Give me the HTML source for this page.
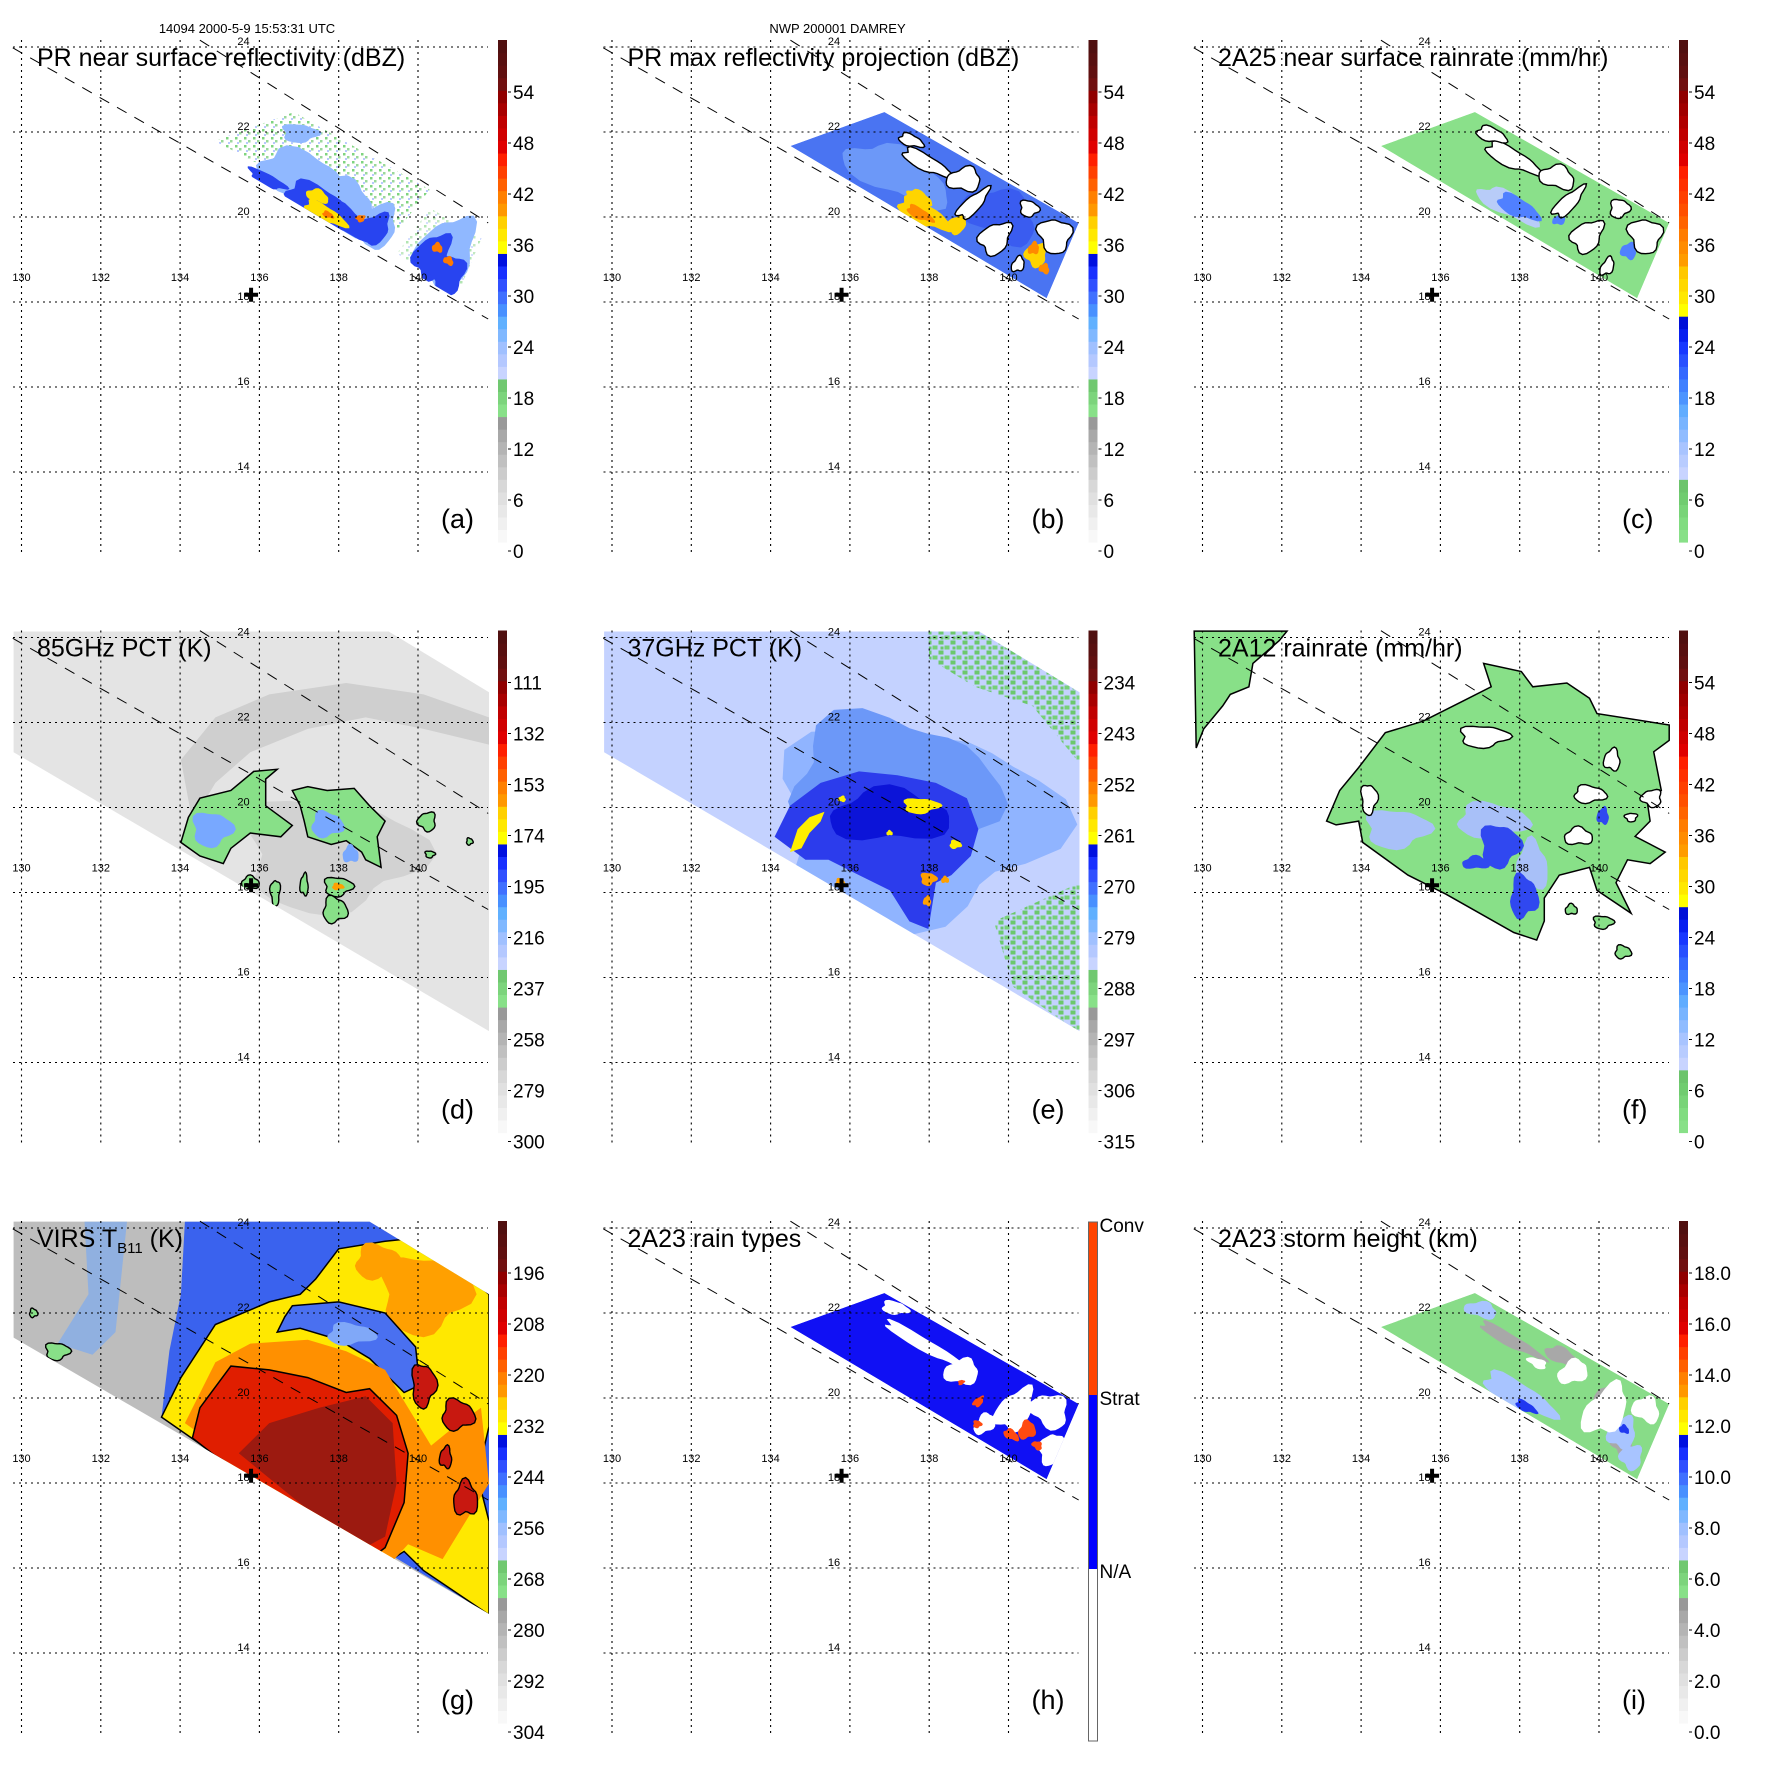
<!DOCTYPE html>
<html><head><meta charset="utf-8"><title>TRMM DAMREY 2000-5-9</title>
<style>
html,body{margin:0;padding:0;background:#fff;}
svg{display:block;font-family:"Liberation Sans",Arial,sans-serif;}
</style></head>
<body>
<svg id="fig" width="1771" height="1771" viewBox="0 0 1771 1771" xmlns="http://www.w3.org/2000/svg">
<rect x="0" y="0" width="1771" height="1771" fill="#fff"/>
<defs>
<pattern id="spkG" width="9" height="8" patternUnits="userSpaceOnUse">
<rect x="1" y="1" width="2.5" height="2.5" fill="#7fd47f"/><rect x="5" y="4" width="2.5" height="2.5" fill="#9ad89a"/><rect x="3" y="6" width="2" height="2" fill="#b8c8ff"/>
</pattern>
<pattern id="spkE" width="12" height="10" patternUnits="userSpaceOnUse">
<rect x="0" y="0" width="5" height="4" fill="#6cc86c"/><rect x="6" y="5" width="5" height="4" fill="#78d078"/><rect x="2" y="6" width="3" height="3" fill="#6cc86c"/>
</pattern>
</defs>
</svg>
<script>
const NS='http://www.w3.org/2000/svg';
const svg=document.getElementById('fig');

/* ---- axis data ---- */
const lonTicks=[130,132,134,136,138,140];
const latTicks=[24,22,20,18,16,14];
const colOff=[0,590.5,1181];
const rowOff=[0,590.5,1181];
/* colorbar tick labels */
const labA=['0','6','12','18','24','30','36','42','48','54'];
const labC=['0','6','12','18','24','30','36','42','48','54'];
const labD=['300','279','258','237','216','195','174','153','132','111'];
const labE=['315','306','297','288','279','270','261','252','243','234'];
const labG=['304','292','280','268','256','244','232','220','208','196'];
const labI=['0.0','2.0','4.0','6.0','8.0','10.0','12.0','14.0','16.0','18.0'];
const labH=['N/A','Strat','Conv'];
/* colour ramps (bottom to top) */
const rampA=['#f8f8f8','#f0f0f0','#e8e8e8','#e0e0e0','#d8d8d8','#cccccc','#c0c0c0','#b4b4b4','#a8a8a8','#999999',
'#88e088','#7cd47c','#70c870',
'#c8d4ff','#b4c8ff','#a0c0ff','#80b8ff','#60b0ff','#4890ff','#4070ff','#3050ff','#1830ff','#0010e0',
'#ffff00','#ffe800','#ffd000','#ff9800','#ff8000','#ff6000',
'#ff4000','#ff2000','#e00000','#d00000','#c00000','#a80000','#900000',
'#701010','#601010','#581010','#501010'];
const rampF=['#88e088','#80dc80','#78d478','#70cc70','#6cc46c',
'#c8d4ff','#b8ccff','#a8c4ff','#90bcff','#78b4ff','#60acff','#4c94ff','#4080ff','#3468ff','#2850ff','#1838ff','#0820f0','#0010d8',
'#ffff00','#ffe800','#ffd800','#ffc800',
'#ff9c00','#ff8c00','#ff7c00','#ff6400','#ff5000',
'#ff4000','#ff3000','#ff2000','#e00000','#d00000','#c00000','#b00000','#a00000','#900000',
'#701010','#601010','#581010','#501010'];

/* ---- geographic axis functions (panel-local px) ---- */
function X(lon){return 21.5+(lon-130)*39.65;}
function Y(lat){return 47+(24-lat)*42.5;}

/* PR swath corners (lon,lat) */
const prBL=[134.50,21.67],prTL=[136.87,22.47],prTR=[141.77,19.86],prBR=[140.96,18.09];
function UV(u,v){
  const bl=prBL[0]+(prBR[0]-prBL[0])*u, bt=prBL[1]+(prBR[1]-prBL[1])*u;
  const tl=prTL[0]+(prTR[0]-prTL[0])*u, tt=prTL[1]+(prTR[1]-prTL[1])*u;
  const bx=X(bl),by=Y(bt),tx=X(tl),ty=Y(tt);
  return [bx+(tx-bx)*v,by+(ty-by)*v];
}
/* TMI / VIRS swaths (lon,lat) */
const tmiSwath=[[129.80,24.14],[139.26,24.14],[141.79,22.71],[141.79,14.74],[129.80,21.30]];
const virsSwath=[[129.8,24.15],[138.78,24.15],[141.79,22.44],[141.79,14.92],[129.8,21.42]];
const dashTop=[[134.5,24.16],[141.77,19.86]];
const dashBot=[[129.78,23.98],[141.77,17.6]];
const stormCenter=[135.79,18.17];

function mk(tag,attrs,parent){const e=document.createElementNS(NS,tag);for(const k in attrs)e.setAttribute(k,attrs[k]);parent.appendChild(e);return e;}
function llPts(arr){return arr.map(p=>X(p[0]).toFixed(1)+','+Y(p[1]).toFixed(1)).join(' ');}
function wob(t,s){return 1+0.16*Math.sin(3*t+s)+0.09*Math.sin(5*t+2*s);}
function blobUV(g,b,fill,stroke){
  const [uc,vc,ru,rv,s]=b;const pts=[];
  for(let i=0;i<28;i++){const t=i/28*2*Math.PI;const r=wob(t,s||0);const p=UV(uc+ru*r*Math.cos(t),vc+rv*r*Math.sin(t));pts.push(p[0].toFixed(1)+','+p[1].toFixed(1));}
  const e=mk('polygon',{points:pts.join(' '),fill:fill,stroke:stroke||'none','stroke-width':1.4},g);
  
  
  return e;
}
function blobLL(g,b,fill,stroke){
  const [lc,tc,rl,rt,s]=b;const pts=[];
  for(let i=0;i<28;i++){const t=i/28*2*Math.PI;const r=wob(t,s||0);pts.push(X(lc+rl*r*Math.cos(t)).toFixed(1)+','+Y(tc+rt*r*Math.sin(t)).toFixed(1));}
  const e=mk('polygon',{points:pts.join(' '),fill:fill,stroke:stroke||'none','stroke-width':1.4},g);
  
  
  return e;
}
function polyLL(g,arr,fill,stroke,name){
  const e=mk('polygon',{points:llPts(arr),fill:fill,stroke:stroke||'none','stroke-width':1.5},g);
  
  
  return e;
}
function prSwathPts(){return [UV(0,0),UV(0,1),UV(1,1),UV(1,0)].map(p=>p[0].toFixed(1)+','+p[1].toFixed(1)).join(' ');}
let clipN=0;
function clipGroup(g,pointsStr){
  const id='clp'+(clipN++);
  const cp=mk('clipPath',{id:id},svg.querySelector('defs'));
  mk('polygon',{points:pointsStr},cp);
  const cg=mk('g',{'clip-path':'url(#'+id+')'},g);
  
  
  return cg;
}

/* ---------- panel imagery data ---------- */
const aLight=[[0.3,0.35,0.16,0.3,1],[0.47,0.3,0.12,0.3,2],[0.62,0.25,0.08,0.3,3],[0.9,0.45,0.1,0.45,4],[0.12,0.8,0.06,0.15,5]];
const aBlue=[[0.42,0.15,0.12,0.2,1],[0.52,0.12,0.12,0.17,2],[0.63,0.22,0.05,0.22,3],[0.86,0.3,0.06,0.3,4],[0.94,0.2,0.06,0.25,5],[0.24,0.07,0.07,0.08,6]];
const aYel=[[0.47,0.07,0.08,0.1,1],[0.4,0.22,0.04,0.08,2]];
const aOra=[[0.48,0.08,0.02,0.04,1],[0.86,0.42,0.02,0.06,2],[0.92,0.35,0.02,0.05,3],[0.57,0.25,0.015,0.05,4]];
const bWhite=[[0.33,0.7,0.11,0.1,1],[0.49,0.76,0.06,0.17,2],[0.59,0.55,0.03,0.25,3],[0.74,0.32,0.05,0.22,4],[0.93,0.72,0.07,0.2,5],[0.78,0.85,0.04,0.1,6],[0.2,0.85,0.05,0.08,7],[0.86,0.18,0.02,0.1,8]];
const bYel=[[0.49,0.12,0.1,0.14,1],[0.43,0.28,0.05,0.07,2],[0.6,0.22,0.03,0.15,3],[0.9,0.4,0.04,0.15,4]];
const bOra=[[0.48,0.1,0.05,0.07,1],[0.88,0.45,0.02,0.08,2],[0.95,0.3,0.02,0.06,3]];
const cWhite=[[0.3,0.72,0.12,0.12,1],[0.49,0.8,0.07,0.15,2],[0.6,0.6,0.03,0.25,3],[0.74,0.35,0.05,0.22,4],[0.93,0.72,0.07,0.2,5],[0.78,0.85,0.04,0.12,6],[0.15,0.85,0.06,0.1,7],[0.86,0.15,0.02,0.12,8]];
const cBlue=[[0.48,0.22,0.08,0.12,1],[0.62,0.35,0.02,0.08,2],[0.9,0.45,0.03,0.1,3]];
const dBand=[[134.02,21.12],[134.89,22.12],[136.25,22.66],[138.19,22.93],[140.14,22.66],[141.79,22.12],[141.79,21.48],[140.14,21.85],[138.68,22.12],[137.22,21.85],[135.77,21.30],[134.89,20.58],[134.31,19.67]];
const dGreen1=[[134.02,19.18],[134.21,19.77],[134.50,20.22],[135.28,20.40],[135.86,20.85],[136.45,20.90],[136.16,20.67],[136.16,20.04],[136.83,19.58],[136.54,19.31],[135.77,19.40],[135.28,19.04],[135.09,18.68],[134.50,18.86]];
const dGreen2=[[136.83,20.40],[137.22,20.49],[137.71,20.40],[138.39,20.45],[138.78,20.04],[139.17,19.68],[138.97,19.31],[139.07,18.59],[138.68,18.77],[138.58,18.95],[138.19,19.22],[137.81,19.13],[137.22,19.31],[137.13,19.68],[137.03,20.04]];
const dSmall=[[137.98,18.14,0.35,0.22,1],[137.9,17.59,0.3,0.3,2],[135.77,18.23,0.22,0.15,3],[137.13,18.18,0.1,0.25,4],[140.23,19.67,0.22,0.22,5],[136.4,18.0,0.12,0.3,6],[140.3,18.9,0.12,0.08,7],[141.3,19.2,0.08,0.08,8]];
const dBlue=[[134.8,19.49,0.5,0.4,1],[137.7,19.6,0.4,0.3,2],[138.3,18.9,0.2,0.2,3]];
const eCore=[[134.10,19.31],[134.49,20.04],[135.26,20.58],[136.23,20.85],[137.20,20.76],[138.17,20.58],[138.95,20.22],[139.24,19.49],[139.05,18.86],[138.56,18.41],[138.17,18.23],[137.98,17.14],[137.50,17.32],[137.01,18.05],[136.23,18.41],[135.46,18.77],[134.88,18.77]];
const eYelArc=[[134.49,18.95],[134.68,19.49],[134.98,19.77],[135.36,19.90],[135.26,19.67],[134.98,19.40],[134.78,19.04]];
const eYel=[[137.79,20.04,0.45,0.18,1],[138.66,19.13,0.15,0.1,2],[137.0,19.4,0.08,0.06,3],[135.8,20.2,0.1,0.07,4]];
const eOra=[[137.98,18.32,0.2,0.15,1],[135.75,18.23,0.12,0.1,2],[138.4,18.3,0.1,0.08,3],[137.95,17.8,0.1,0.12,4]];
const eGreenTop=[[137.98,24.2],[139.24,24.2],[141.8,22.7],[141.8,21.03],[140.60,22.39],[139.15,22.84],[138.0,23.5]];
const eGreenBot=[[139.63,17.32],[141.8,18.23],[141.8,14.7],[140.12,15.78]];
const fMain=[[133.13,19.68],[133.46,20.40],[133.94,20.94],[134.61,21.76],[135.56,22.03],[136.52,22.48],[137.28,22.84],[137.09,23.39],[138.04,23.20],[138.33,22.84],[139.19,22.93],[139.76,22.57],[139.95,22.21],[141.77,21.94],[141.77,21.58],[141.38,21.31],[141.57,20.40],[141.19,20.31],[141.29,19.68],[140.91,19.32],[141.67,18.95],[141.29,18.68],[140.72,18.77],[140.43,18.23],[140.81,17.51],[139.95,18.05],[139.76,18.59],[139.0,18.41],[138.62,17.87],[138.62,17.33],[138.43,16.88],[137.85,17.06],[136.14,17.96],[135.18,18.41],[134.04,19.18],[133.94,19.68],[133.37,19.59]];
const fTopLeft=[[129.79,24.15],[132.13,24.15],[131.94,23.93],[131.27,23.39],[131.17,22.84],[130.70,22.66],[130.51,22.39],[130.03,21.85],[129.84,21.4]];
const fHoles=[[137.09,21.67,0.6,0.25,1],[139.76,20.31,0.4,0.2,2],[139.48,19.32,0.35,0.2,3],[140.33,21.12,0.2,0.25,4],[141.33,20.22,0.25,0.2,5],[140.81,19.77,0.15,0.1,6],[134.2,20.2,0.2,0.35,7]];
const fBlue=[[137.5,19.1,0.5,0.5,1],[138.1,17.9,0.35,0.5,2],[136.9,18.7,0.35,0.15,3],[140.1,19.8,0.15,0.2,4]];
const fLight=[[134.9,19.5,0.8,0.45,1],[137.3,19.7,0.9,0.4,2],[138.3,18.6,0.4,0.6,3]];
const fSmall=[[140.1,17.3,0.25,0.15,1],[140.6,16.6,0.2,0.15,2],[139.3,17.6,0.15,0.12,3]];
const gBlue=[[134.12,24.15],[138.78,24.15],[141.79,22.44],[141.79,14.92],[133.53,19.55],[133.73,21.11],[134.02,22.44]];
const gLeft=[[131.59,24.15],[132.66,24.15],[132.37,21.55],[131.79,21.02],[130.91,21.28],[131.69,22.44]];
const gYel=[[133.53,19.55],[134.02,20.48],[134.89,21.73],[136.25,22.26],[137.03,22.44],[137.42,22.80],[138.0,23.51],[139.17,23.69],[140.14,23.78],[141.79,22.44],[141.79,19.33],[141.5,18.17],[141.79,17.1],[141.79,14.9],[140.14,15.94],[139.65,16.39],[139.0,16.0]];
const gBlueArc=[[136.83,22.17],[138.0,22.26],[139.17,22.0],[139.94,21.2],[140.04,20.3],[139.65,20.13],[138.78,20.93],[138.0,21.37],[137.03,21.64],[136.45,21.55],[136.64,21.91]];
const gOra=[[134.12,19.41],[134.89,20.84],[135.77,21.28],[137.22,21.37],[138.19,21.1],[139.17,20.66],[139.75,19.77],[140.33,18.88],[140.91,19.32],[141.59,19.77],[141.79,17.99],[140.62,16.21],[139.75,16.56],[139.2,16.0]];
const gRed=[[134.31,19.06],[134.5,19.77],[135.28,20.75],[136.25,20.66],[137.22,20.48],[138.19,20.13],[138.78,20.22],[139.46,19.59],[139.75,18.7],[139.65,17.54],[139.17,16.48],[138.5,16.0]];
const gMaroon=[[135.48,18.7],[136.25,19.41],[137.51,19.77],[138.68,20.04],[139.36,19.41],[139.46,17.99],[139.17,16.74],[138.5,16.4]];
const gOraTR=[[140.14,22.44,1.1,0.9,1],[139.0,23.2,0.6,0.4,2]];
const gRedBlobs=[[140.14,20.3,0.3,0.5,1],[141.0,19.6,0.4,0.35,2],[141.2,17.63,0.3,0.4,3],[140.7,18.6,0.15,0.25,4]];
const gYelStreak=[[137.5,18.7,0.35,0.3,1]];
const gGreen=[[130.9,21.1,0.3,0.2,1],[130.3,22.0,0.1,0.1,2]];
const hWhite=[[0.33,0.68,0.2,0.08,1],[0.52,0.62,0.06,0.18,2],[0.78,0.55,0.06,0.3,3],[0.9,0.75,0.08,0.2,4],[0.97,0.35,0.04,0.2,5],[0.1,0.9,0.05,0.1,6],[0.72,0.2,0.03,0.15,7]];
const hRed=[[0.86,0.4,0.03,0.12,1],[0.82,0.25,0.03,0.06,2],[0.65,0.4,0.015,0.08,3],[0.92,0.3,0.02,0.05,4],[0.55,0.5,0.01,0.04,5],[0.7,0.15,0.015,0.05,6]];
const iGray=[[0.3,0.7,0.15,0.08,1],[0.5,0.85,0.08,0.1,2],[0.75,0.7,0.04,0.15,3],[0.9,0.3,0.04,0.15,4]];
const iWhite=[[0.58,0.75,0.05,0.18,1],[0.78,0.55,0.07,0.35,2],[0.92,0.8,0.06,0.15,3],[0.45,0.62,0.04,0.06,4]];
const iLight=[[0.5,0.15,0.14,0.16,1],[0.1,0.85,0.06,0.12,2],[0.88,0.4,0.05,0.2,3],[0.95,0.2,0.04,0.15,4]];
const iBlue=[[0.55,0.07,0.04,0.06,1],[0.88,0.45,0.02,0.05,2]];

/* ---------- panel frame ---------- */
function panel(ci,ri,letter,title,ramp,labels,draw,header){
  const g=mk('g',{transform:'translate('+colOff[ci]+','+rowOff[ri]+')'},svg);
  
  
  draw(g);
  lonTicks.forEach(lon=>{
    const l=mk('line',{x1:X(lon),x2:X(lon),y1:40,y2:552,stroke:'#000','stroke-width':1.1,'stroke-dasharray':'2,4'},g);
    
    
    const t=mk('text',{x:X(lon),y:281,'font-size':11,'text-anchor':'middle'},g);
    t.textContent=lon;
    
    
  });
  latTicks.forEach(lat=>{
    const l=mk('line',{x1:13,x2:488,y1:Y(lat),y2:Y(lat),stroke:'#000','stroke-width':1.1,'stroke-dasharray':'2,4'},g);
    
    
    const t=mk('text',{x:X(135.6),y:Y(lat)-2,'font-size':11,'text-anchor':'middle'},g);
    t.textContent=lat;
    
    
  });
  [dashTop,dashBot].forEach((d,i)=>{
    const l=mk('line',{x1:X(d[0][0]),y1:Y(d[0][1]),x2:X(d[1][0]),y2:Y(d[1][1]),stroke:'#000','stroke-width':1,'stroke-dasharray':'11,9'},g);
    
    
  });
  const cx=X(stormCenter[0]),cy=Y(stormCenter[1]);
  const cr=mk('path',{d:`M${cx-7} ${cy}H${cx+7}M${cx} ${cy-7}V${cy+7}`,stroke:'#000','stroke-width':4},g);
  
  
  const tt=mk('text',{x:37,y:66,'font-size':25},g);
  tt.textContent=title;
  
  
  if(title.indexOf('VIRS')===0){
    tt.textContent='VIRS T';
    const sub=mk('tspan',{'font-size':15,dy:6},tt);sub.textContent='B11';
    const rest=mk('tspan',{dy:-6},tt);rest.textContent=' (K)';
  }
  const lt=mk('text',{x:441,y:528,'font-size':27},g);
  lt.textContent='('+letter+')';
  
  
  if(header){
    const h=mk('text',{x:247,y:33,'font-size':13,'text-anchor':'middle'},g);
    h.textContent=header;
    
    
  }
  const cb=mk('g',{},g);
  
  
  if(ramp){
    const top=40,bot=542,n=ramp.length,h=(bot-top)/n;
    ramp.forEach((c,i)=>{
      const r=mk('rect',{x:498,y:(bot-(i+1)*h).toFixed(2),width:9,height:(h+0.6).toFixed(2),fill:c},cb);
      
      
    });
    labels.forEach((s,i)=>{
      const y=551-i*51;
      const tk=mk('line',{x1:508,x2:511,y1:y,y2:y,stroke:'#000','stroke-width':1},cb);
      
      
      const t=mk('text',{x:513,y:y+7,'font-size':19},cb);
      t.textContent=s;
      
      
    });
  } else {
    const segs=[[388,560,'#ffffff'],[214,388,'#0000ff'],[41,214,'#ff4400']];
    segs.forEach(s=>{
      const r=mk('rect',{x:498,y:s[0],width:9,height:s[1]-s[0],fill:s[2]},cb);
      
      
    });
    const o=mk('rect',{x:498,y:41,width:9,height:519,fill:'none',stroke:'#666','stroke-width':1},cb);
    
    
    const ys=[389,216,43];
    labels.forEach((s,i)=>{
      const t=mk('text',{x:509,y:ys[i]+8,'font-size':19},cb);
      t.textContent=s;
      
      
    });
  }
}

/* ---------- draw panels ---------- */
panel(0,0,'a','PR near surface reflectivity (dBZ)',rampA,labA,g=>{
  const c=clipGroup(g,prSwathPts());
  const sp=mk('polygon',{points:[UV(0,0.15),UV(0,1),UV(0.7,1),UV(0.7,0.3)].map(p=>p.join(',')).join(' '),fill:'url(#spkG)'},c);
  
  
  const sp2=mk('polygon',{points:[UV(0.75,0.1),UV(0.75,0.8),UV(1,0.8),UV(1,0.1)].map(p=>p.join(',')).join(' '),fill:'url(#spkG)',opacity:0.6},c);
  
  
  aLight.forEach(b=>blobUV(c,b,'#90b8ff'));
  aBlue.forEach(b=>blobUV(c,b,'#2844f0'));
  aYel.forEach(b=>blobUV(c,b,'#ffe000'));
  aOra.forEach(b=>blobUV(c,b,'#ff7a00'));
},'14094 2000-5-9 15:53:31 UTC');

panel(1,0,'b','PR max reflectivity projection (dBZ)',rampA,labA,g=>{
  const c=clipGroup(g,prSwathPts());
  const base=mk('polygon',{points:prSwathPts(),fill:'#4a74f2'},c);
  
  
  blobUV(c,[0.3,0.4,0.2,0.3,2],'#6c98f8');
  blobUV(c,[0.7,0.6,0.15,0.3,3],'#3a5cf0');
  bYel.forEach(b=>blobUV(c,b,'#ffd400'));
  bOra.forEach(b=>blobUV(c,b,'#ff8a00'));
  bWhite.forEach(b=>blobUV(c,b,'#ffffff','#000'));
},'NWP 200001 DAMREY');

panel(2,0,'c','2A25 near surface rainrate (mm/hr)',rampF,labC,g=>{
  const c=clipGroup(g,prSwathPts());
  const base=mk('polygon',{points:prSwathPts(),fill:'#8ae08a'},c);
  
  
  blobUV(c,[0.45,0.18,0.12,0.14,2],'#b8ccf8');
  cBlue.forEach(b=>blobUV(c,b,'#5080ff'));
  cWhite.forEach(b=>blobUV(c,b,'#ffffff','#000'));
});

panel(0,1,'d','85GHz PCT (K)',rampA,labD,g=>{
  polyLL(g,tmiSwath,'#e4e4e4','none','tb-field');
  const c=clipGroup(g,llPts(tmiSwath));
  polyLL(c,dBand,'#cfcfcf');
  blobLL(c,[137.8,18.9,2.2,1.3,1],'#d2d2d2');
  polyLL(c,dGreen1,'#88e088','#000','convective-region');
  polyLL(c,dGreen2,'#88e088','#000','convective-region');
  dSmall.forEach(b=>blobLL(c,b,'#88e088','#000'));
  dBlue.forEach(b=>blobLL(c,b,'#78a8ff'));
  blobLL(c,[137.98,18.14,0.15,0.08,2],'#ffa000');
});

panel(1,1,'e','37GHz PCT (K)',rampA,labE,g=>{
  polyLL(g,tmiSwath,'#c4d2ff','none','tb-field');
  const c=clipGroup(g,llPts(tmiSwath));
  polyLL(c,eGreenTop,'url(#spkE)');
  polyLL(c,eGreenBot,'url(#spkE)');
  blobLL(c,[137.6,19.6,3.4,2.3,1],'#90b4ff');
  blobLL(c,[137.0,20.5,2.6,1.6,2],'#6c98f8');
  polyLL(c,eCore,'#2c3cec');
  blobLL(c,[137.0,19.8,1.5,0.6,3],'#0c14d8');
  polyLL(c,eYelArc,'#ffee00');
  eYel.forEach(b=>blobLL(c,b,'#ffee00'));
  eOra.forEach(b=>blobLL(c,b,'#ffa000'));
});

panel(2,1,'f','2A12 rainrate (mm/hr)',rampF,labC,g=>{
  polyLL(g,fMain,'#88e088','#000','rain-region');
  polyLL(g,fTopLeft,'#88e088','#000','rain-region');
  fSmall.forEach(b=>blobLL(g,b,'#88e088','#000'));
  fLight.forEach(b=>blobLL(g,b,'#a8c0f8'));
  fBlue.forEach(b=>blobLL(g,b,'#3048f0'));
  fHoles.forEach(b=>blobLL(g,b,'#ffffff','#000'));
});

panel(0,2,'g','VIRS',rampA,labG,g=>{
  polyLL(g,virsSwath,'#bdbdbd','none','tb-field');
  const c=clipGroup(g,llPts(virsSwath));
  polyLL(c,gLeft,'#90b0e0');
  gGreen.forEach(b=>blobLL(c,b,'#88e088','#000'));
  polyLL(c,gBlue,'#3a62ee');
  polyLL(c,gYel,'#ffe800','#000');
  gOraTR.forEach(b=>blobLL(c,b,'#ffa000'));
  polyLL(c,gBlueArc,'#4a70f0','#000');
  blobLL(c,[138.3,21.5,0.6,0.25,2],'#80a8f8');
  polyLL(c,gOra,'#ff9000');
  polyLL(c,gRed,'#e01e00','#000');
  gYelStreak.forEach(b=>blobLL(c,b,'#ffb000'));
  polyLL(c,gMaroon,'#9c1a10');
  gRedBlobs.forEach(b=>blobLL(c,b,'#c81810','#000'));
});

panel(1,2,'h','2A23 rain types',null,labH,g=>{
  const c=clipGroup(g,prSwathPts());
  const base=mk('polygon',{points:prSwathPts(),fill:'#1010f4'},c);
  
  
  hWhite.forEach(b=>blobUV(c,b,'#ffffff'));
  hRed.forEach(b=>blobUV(c,b,'#ff4a10'));
});

panel(2,2,'i','2A23 storm height (km)',rampA,labI,g=>{
  const c=clipGroup(g,prSwathPts());
  const base=mk('polygon',{points:prSwathPts(),fill:'#88dc88'},c);
  
  
  iGray.forEach(b=>blobUV(c,b,'#a8a8a8'));
  iLight.forEach(b=>blobUV(c,b,'#a8c4ff'));
  iBlue.forEach(b=>blobUV(c,b,'#2038f0'));
  iWhite.forEach(b=>blobUV(c,b,'#ffffff'));
});
</script>
</body></html>
